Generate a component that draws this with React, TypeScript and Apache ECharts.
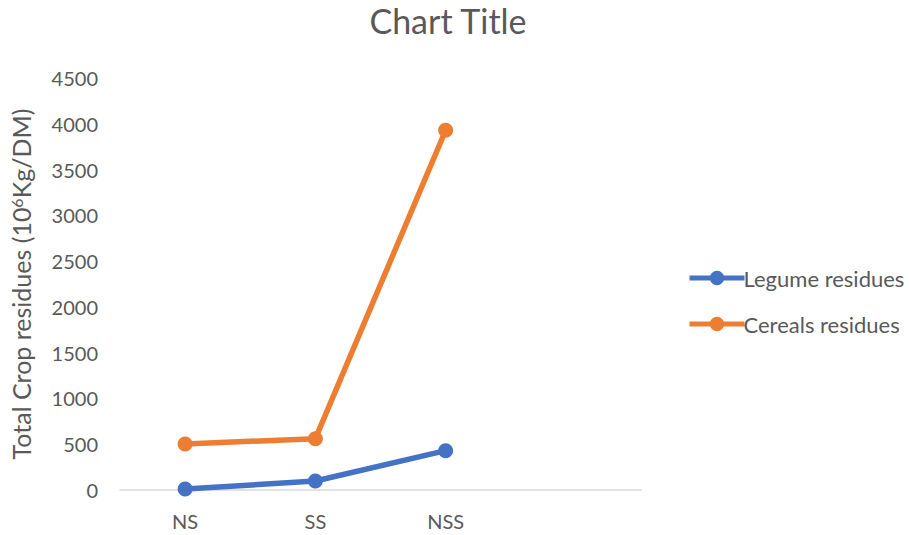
import React, { useEffect, useRef } from "react";
import * as echarts from "echarts";

const categories = ["NS", "SS", "NSS", ""];
const legumeResidues = [10, 98, 430, null];
const cerealsResidues = [502, 561, 3928, null];
const yTicks = { min: 0, max: 4500, interval: 500 };

const FONT = "Lato, 'Open Sans', sans-serif";
const TEXT = "#595959";
const BLUE = "#4472C4";
const ORANGE = "#ED7D31";

export default function App() {
  const ref = useRef<HTMLDivElement>(null);
  useEffect(() => {
    if (!ref.current) return;
    const chart = echarts.init(ref.current, undefined, { renderer: "svg" });
    chart.setOption({
      animation: false,
      backgroundColor: "#ffffff",
      textStyle: { fontFamily: FONT },
      title: {
        text: "Chart Title",
        left: 443,
        top: -2,
        textAlign: "center",
        textStyle: { fontFamily: FONT, fontSize: 34, fontWeight: "normal", color: TEXT },
      },
      grid: { left: 117, right: 268, top: 78, bottom: 45, containLabel: false },
      legend: {
        orient: "vertical",
        left: 682,
        top: 262,
        itemWidth: 55,
        itemHeight: 18,
        itemGap: 24,
        textStyle: { fontFamily: FONT, fontSize: 22, color: TEXT, padding: [0, 0, 0, -6] },
        data: [
          { name: "Legume residues", lineStyle: { width: 5, color: BLUE } },
          { name: "Cereals residues", lineStyle: { width: 5, color: ORANGE } },
        ],
      },
      xAxis: {
        type: "category",
        data: categories,
        boundaryGap: true,
        axisLine: { lineStyle: { color: "#d9d9d9", width: 1.5 } },
        axisTick: { show: false },
        axisLabel: { fontFamily: FONT, fontSize: 20, color: TEXT, margin: 21 },
        splitLine: { show: false },
      },
      yAxis: {
        type: "value",
        min: yTicks.min,
        max: yTicks.max,
        interval: yTicks.interval,
        axisLine: { show: false },
        axisTick: { show: false },
        splitLine: { show: false },
        axisLabel: {
          fontFamily: FONT,
          fontSize: 20,
          color: TEXT,
          margin: 22,
          formatter: (v: number) => String(v),
        },
        name: "{b|Total Crop residues (10}{s|6}{b|Kg/DM)}",
        nameLocation: "middle",
        nameGap: 86,
        nameTextStyle: {
          fontFamily: FONT,
          fontSize: 25,
          color: TEXT,
          rich: {
            b: { fontFamily: FONT, fontSize: 25, color: TEXT },
            s: { fontFamily: FONT, fontSize: 16, color: TEXT, verticalAlign: "top", padding: [0, 0, 10, 0] },
          },
        },
      },
      series: [
        {
          name: "Legume residues",
          type: "line",
          data: legumeResidues,
          color: BLUE,
          symbol: "circle",
          symbolSize: 15,
          lineStyle: { width: 5.5, color: BLUE },
          itemStyle: { color: BLUE },
        },
        {
          name: "Cereals residues",
          type: "line",
          data: cerealsResidues,
          color: ORANGE,
          symbol: "circle",
          symbolSize: 15,
          lineStyle: { width: 5.5, color: ORANGE },
          itemStyle: { color: ORANGE },
        },
      ],
    });
    return () => chart.dispose();
  }, []);
  return <div ref={ref} style={{ width: 909, height: 535, position: "absolute", left: 0, top: 0 }} />;
}
